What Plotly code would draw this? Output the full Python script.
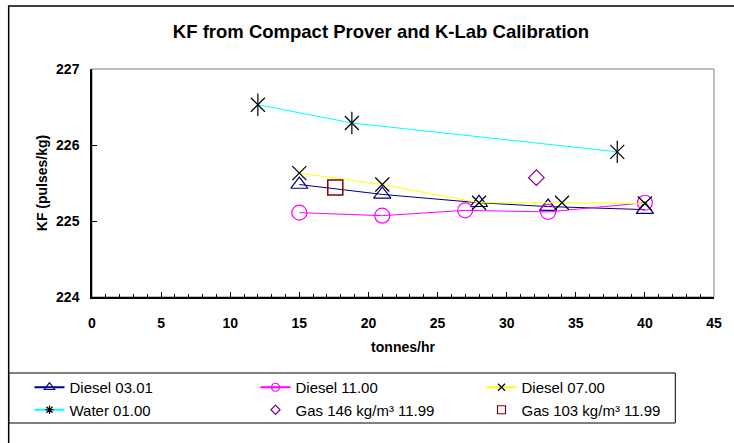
import plotly.graph_objects as go

# ---- data ----
d0301_x = [15, 21, 28, 33, 40]
d0301_y = [225.48, 225.35, 225.24, 225.19, 225.15]
d1100_x = [15, 21, 27, 33, 40]
d1100_y = [225.11, 225.07, 225.14, 225.12, 225.24]
d0700_x = [15, 21, 28, 34, 40]
d0700_y = [225.63, 225.48, 225.24, 225.24, 225.23]
w0100_x = [12, 18.8, 38]
w0100_y = [226.53, 226.29, 225.91]
g146_x = [32.15]
g146_y = [225.57]
g103_x = [17.6]
g103_y = [225.44]

x_ticks = [0, 5, 10, 15, 20, 25, 30, 35, 40, 45]
y_ticks = [224, 225, 226, 227]

W, H = 734, 443
L, R, T, B = 92, 15, 69, 146
pw, ph = W - L - R, H - T - B


def px(x):
    return (x - L) / pw


def py(y):
    return (H - B - y) / ph


NAVY, MAG, YEL, CYAN, PURP, DRED = "#000080", "#FF00FF", "#FFFF00", "#00FFFF", "#800080", "#800000"

fig = go.Figure()

# plotted traces (no legend)
fig.add_trace(go.Scatter(x=d0301_x, y=d0301_y, mode="lines+markers", showlegend=False,
                         line=dict(color=NAVY, width=1),
                         marker=dict(symbol="triangle-up-open", size=15, color=NAVY, line=dict(width=1.2, color=NAVY))))
fig.add_trace(go.Scatter(x=d1100_x, y=d1100_y, mode="lines+markers", showlegend=False,
                         line=dict(color=MAG, width=1),
                         marker=dict(symbol="circle-open", size=15, color=MAG, line=dict(width=1.2, color=MAG))))
fig.add_trace(go.Scatter(x=d0700_x, y=d0700_y, mode="lines+markers", showlegend=False,
                         line=dict(color=YEL, width=1),
                         marker=dict(symbol="x-thin-open", size=14, color="black", line=dict(width=1.2, color="black"))))
fig.add_trace(go.Scatter(x=w0100_x, y=w0100_y, mode="lines+markers", showlegend=False,
                         line=dict(color=CYAN, width=1),
                         marker=dict(symbol="x-thin-open", size=14, color="black", line=dict(width=1.2, color="black"))))
fig.add_trace(go.Scatter(x=w0100_x, y=w0100_y, mode="markers", showlegend=False,
                         marker=dict(symbol="line-ns-open", size=16, color="black", line=dict(width=1.2, color="black"))))
fig.add_trace(go.Scatter(x=g146_x, y=g146_y, mode="markers", showlegend=False,
                         marker=dict(symbol="diamond-open", size=12, color=PURP, line=dict(width=1.2, color=PURP))))
fig.add_trace(go.Scatter(x=g103_x, y=g103_y, mode="markers", showlegend=False,
                         marker=dict(symbol="square-open", size=15, color=DRED, line=dict(width=1.5, color=DRED))))

# legend entries
leg = [
    ("Diesel 03.01", "lines+markers", NAVY, "triangle-up-open", NAVY, 9),
    ("Diesel 11.00", "lines+markers", MAG, "circle-open", MAG, 8),
    ("Diesel 07.00", "lines+markers", YEL, "x-thin-open", "black", 7),
    ("Water 01.00", "lines+markers", CYAN, "asterisk-open", "black", 7),
    ("Gas 146 kg/m³ 11.99", "markers", PURP, "diamond-open", PURP, 7),
    ("Gas 103 kg/m³ 11.99", "markers", DRED, "square-open", DRED, 8),
]
for name, mode, lc, sym, mc, sz in leg:
    fig.add_trace(go.Scatter(x=[None], y=[None], name=name, mode=mode,
                             line=dict(color=lc, width=2),
                             marker=dict(symbol=sym, size=sz, color=mc, line=dict(width=1.2, color=mc))))

shapes = [
    # outer chart frame
    dict(type="rect", xref="paper", yref="paper", x0=px(8), x1=px(760), y0=py(6), y1=py(470),
         line=dict(color="black", width=1.5), layer="below"),
    # plot area border (grey top/right)
    dict(type="rect", xref="paper", yref="paper", x0=0, x1=1, y0=0, y1=1,
         line=dict(color="#808080", width=1), layer="below"),
    # legend box
    dict(type="rect", xref="paper", yref="paper", x0=px(8), x1=px(680), y0=py(373), y1=py(423),
         line=dict(color="black", width=1), layer="below"),
]

FONT = "Liberation Sans, Arial, sans-serif"
BOLD = dict(size=14, family=FONT, weight="bold", color="black")

fig.update_layout(
    width=W, height=H,
    margin=dict(l=L, r=R, t=T, b=B),
    paper_bgcolor="white", plot_bgcolor="white",
    font=dict(family=FONT, color="black"),
    title=dict(text="KF from Compact Prover and K-Lab Calibration", x=381 / W, xref="container",
               xanchor="center", y=1 - 32 / H, yanchor="middle",
               font=dict(size=18.5, family=FONT, weight="bold")),
    shapes=shapes,
    showlegend=True,
    legend=dict(orientation="h", x=px(29), y=py(371), xanchor="left", yanchor="top",
                entrywidth=181, entrywidthmode="pixels", font=dict(size=15, family=FONT),
                bgcolor="rgba(0,0,0,0)", borderwidth=0, itemclick=False),
    xaxis=dict(range=[0, 45], tickvals=x_ticks, ticktext=[str(v) for v in x_ticks],
               showgrid=False, zeroline=False, showline=True, linecolor="black", linewidth=1.5,
               ticks="inside", ticklen=5, tickcolor="black",
               minor=dict(dtick=1, ticks="inside", ticklen=3, tickcolor="black"),
               tickfont=BOLD, ticklabelstandoff=12,
               title=dict(text="tonnes/hr", font=BOLD, standoff=13)),
    yaxis=dict(range=[224, 227], tickvals=y_ticks, ticktext=[str(v) for v in y_ticks],
               showgrid=False, zeroline=False, showline=True, linecolor="black", linewidth=1.5,
               ticks="inside", ticklen=5, tickcolor="black",
               tickfont=BOLD, ticklabelstandoff=8,
               title=dict(text="KF (pulses/kg)", font=BOLD, standoff=5)),
)

fig.write_html("out.html", config={"displayModeBar": False},
               post_script="document.body.style.margin='0';")
